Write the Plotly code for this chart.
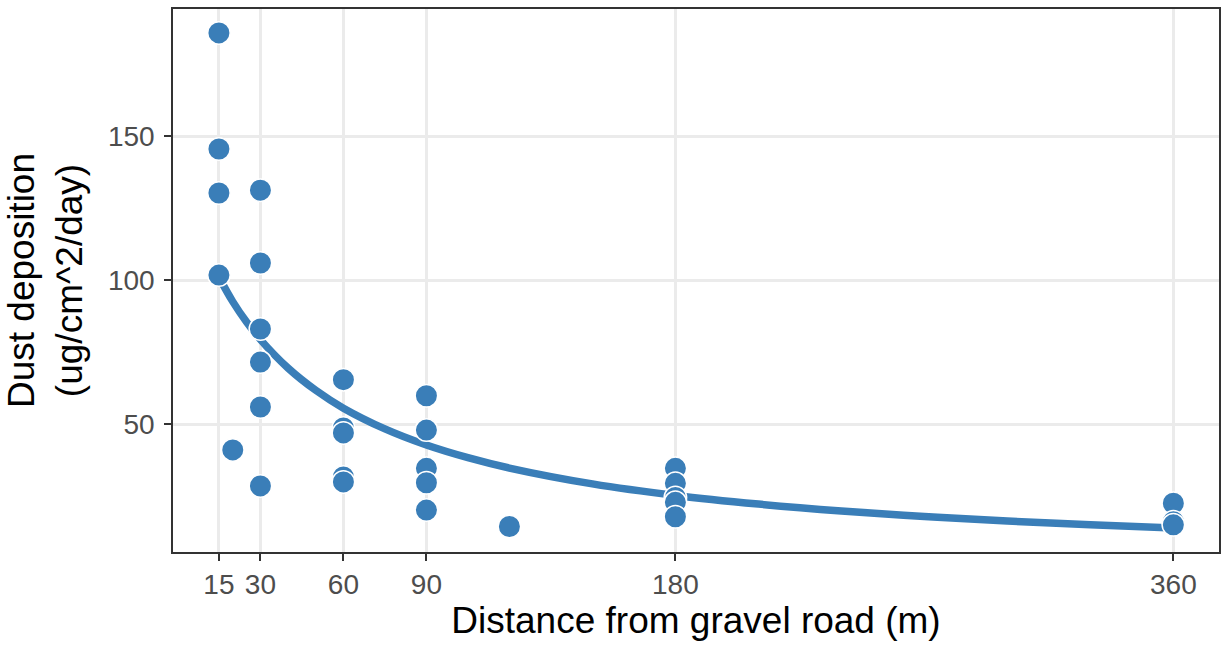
import plotly.graph_objects as go

# Observed points
dist = [15, 15, 15, 15,
        20,
        30, 30, 30, 30, 30, 30,
        60, 60, 60, 60, 60,
        90, 90, 90, 90, 90,
        120,
        180, 180, 180, 180, 180,
        360, 360, 360]
dust = [185.8, 145.5, 130.2, 101.7,
        41.0,
        131.2, 105.9, 83.0, 71.5, 55.9, 28.5,
        65.4, 48.6, 46.9, 31.6, 29.9,
        59.8, 47.9, 34.6, 29.6, 20.1,
        14.4,
        34.6, 29.4, 24.5, 22.8, 17.8,
        22.5, 16.1, 15.0]

# Fitted curve
fit_x = [15, 20, 25, 30, 40, 50, 60, 75, 90, 105, 120, 150, 180, 210, 240, 270, 300, 330, 360]
fit_y = [101.0, 92.5, 85.4, 79.3, 69.4, 61.7, 55.5, 48.3, 42.7, 38.3, 34.7, 29.2, 25.2, 22.2, 19.8, 17.9, 16.3, 15.0, 13.9]

x_ticks = [15, 30, 60, 90, 180, 360]
y_ticks = [50, 100, 150]

BLUE = "#3A7EB8"
FONT = "Liberation Sans, Arial, sans-serif"

fig = go.Figure()
fig.add_trace(go.Scatter(
    x=fit_x, y=fit_y, mode="lines", line=dict(color=BLUE, width=7.5, shape="spline"),
    hoverinfo="skip", showlegend=False))
fig.add_trace(go.Scatter(
    x=dist, y=dust, mode="markers",
    marker=dict(color=BLUE, size=22.5, line=dict(color="white", width=1.5)),
    showlegend=False))

axis_common = dict(
    showgrid=True, gridcolor="#EBEBEB", gridwidth=2.5,
    zeroline=False,
    showline=True, linecolor="#333333", linewidth=1.6, mirror=True,
    ticks="outside", ticklen=7, tickwidth=1.6, tickcolor="#333333",
    tickfont=dict(family=FONT, size=28, color="#4D4D4D"),
)

fig.update_layout(
    width=1221, height=645,
    margin=dict(l=173, r=0, t=9, b=93),
    plot_bgcolor="white", paper_bgcolor="white",
    xaxis=dict(range=[-1.6, 376.5], tickvals=x_ticks, ticktext=[str(v) for v in x_ticks],
               title=dict(text="Distance from gravel road (m)",
                          font=dict(family=FONT, size=37, color="black"), standoff=6),
               **axis_common),
    yaxis=dict(range=[5.56, 194.1], tickvals=y_ticks, ticktext=[str(v) for v in y_ticks],
               ticklabelstandoff=4,
               title=dict(text="Dust deposition<br>(ug/cm^2/day)",
                          font=dict(family=FONT, size=37, color="black"), standoff=14),
               **axis_common),
)

fig.write_html("out.html")
